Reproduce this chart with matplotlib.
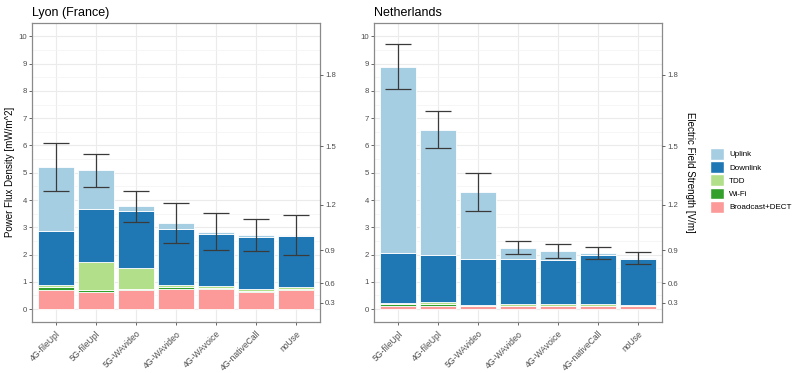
import numpy as np
import matplotlib
matplotlib.use("Agg")
import matplotlib.pyplot as plt
from matplotlib.patches import Patch

plt.rcParams['font.family'] = ['Liberation Sans', 'DejaVu Sans']

# ---- data (mW/m^2), stacked bottom -> top ----
lyon_cats = ['4G-fileUpl', '5G-fileUpl', '5G-WAvideo', '4G-WAvideo', '4G-WAvoice', '4G-nativeCall', 'noUse']
lyon_broadcast = [0.70, 0.64, 0.70, 0.75, 0.73, 0.64, 0.71]
lyon_wifi      = [0.12, 0.06, 0.05, 0.06, 0.05, 0.03, 0.04]
lyon_tdd       = [0.06, 1.04, 0.74, 0.07, 0.06, 0.06, 0.05]
lyon_downlink  = [1.98, 1.92, 2.12, 2.06, 1.92, 1.91, 1.88]
lyon_uplink    = [2.36, 1.43, 0.17, 0.22, 0.08, 0.06, 0.02]
lyon_err_lo    = [4.33, 4.49, 3.18, 2.42, 2.15, 2.12, 1.98]
lyon_err_hi    = [6.10, 5.69, 4.34, 3.88, 3.54, 3.32, 3.44]

nl_cats = ['5G-fileUpl', '4G-fileUpl', '5G-WAvideo', '4G-WAvideo', '4G-WAvoice', '4G-nativeCall', 'noUse']
nl_broadcast = [0.12, 0.12, 0.11, 0.11, 0.11, 0.11, 0.11]
nl_wifi      = [0.06, 0.06, 0.02, 0.02, 0.02, 0.02, 0.01]
nl_tdd       = [0.05, 0.07, 0.03, 0.05, 0.04, 0.05, 0.03]
nl_downlink  = [1.81, 1.73, 1.66, 1.64, 1.63, 1.80, 1.70]
nl_uplink    = [6.85, 4.60, 2.46, 0.43, 0.32, 0.07, 0.01]
nl_err_lo    = [8.07, 5.90, 3.61, 2.01, 1.86, 1.82, 1.65]
nl_err_hi    = [9.72, 7.27, 4.98, 2.51, 2.37, 2.29, 2.10]

layer_names = ['Broadcast+DECT', 'Wi-Fi', 'TDD', 'Downlink', 'Uplink']
layer_colors = ['#FB9A99', '#33A02C', '#B2DF8A', '#1F78B4', '#A6CEE3']
e_ticks = [0.3, 0.6, 0.9, 1.2, 1.5, 1.8]  # V/m

def s_from_e(e):
    return np.asarray(e) ** 2 * 1000 / 377.0

fig = plt.figure(figsize=(7.98, 3.73), dpi=100)

def panel(rect, title, cats, layers, lo, hi, right_label=False, left_label=False):
    ax = fig.add_axes(rect)
    x = np.arange(1, len(cats) + 1)
    bottom = np.zeros(len(cats))
    for vals, col in zip(layers, layer_colors):
        ax.bar(x, vals, 0.9, bottom=bottom, color=col, edgecolor='white', linewidth=0.6, zorder=2)
        bottom = bottom + np.asarray(vals)
    lo = np.asarray(lo); hi = np.asarray(hi)
    mid = (lo + hi) / 2
    ax.errorbar(x, mid, yerr=[mid - lo, hi - mid], fmt='none', ecolor='#3a3a3a',
                elinewidth=0.9, capsize=9.5, capthick=0.9, zorder=3)
    ax.set_xlim(0.4, 7.6)
    ax.set_ylim(-0.47, 10.5)
    ax.set_yticks(range(0, 11))
    ax.set_yticks(np.arange(0.5, 10.5, 1.0), minor=True)
    ax.set_xticks(x)
    ax.set_xticklabels(cats, rotation=45, ha='right', rotation_mode='anchor')
    ax.grid(True, which='major', color='#EBEBEB', linewidth=0.8, zorder=0)
    ax.grid(True, which='minor', axis='y', color='#F3F3F3', linewidth=0.5, zorder=0)
    ax.set_axisbelow(True)
    ax.tick_params(axis='both', colors='#4D4D4D', length=2.2, width=0.6)
    ax.tick_params(axis='y', labelsize=5.6, pad=1.5)
    ax.tick_params(axis='x', labelsize=6.2, pad=3)
    ax.tick_params(axis='y', which='minor', length=0)
    for sp in ax.spines.values():
        sp.set_color('#8A8A8A')
        sp.set_linewidth(0.9)
    ax.set_title(title, loc='left', fontsize=9, pad=5)
    if left_label:
        ax.set_ylabel('Power Flux Density [mW/m^2]', fontsize=7, labelpad=2.5)

    ax2 = ax.twinx()
    ax2.set_ylim(ax.get_ylim())
    ax2.set_yticks(s_from_e(e_ticks))
    ax2.set_yticklabels([f'{e:.1f}' for e in e_ticks])
    ax2.tick_params(axis='y', labelsize=5.6, colors='#4D4D4D', length=2.2, width=0.6, pad=1.5)
    for sp in ax2.spines.values():
        sp.set_visible(False)
    if right_label:
        ax2.set_ylabel('Electric Field Strength [V/m]', fontsize=7, rotation=-90, labelpad=12)
    return ax

panel([0.0401, 0.137, 0.361, 0.802], 'Lyon (France)', lyon_cats,
      [lyon_broadcast, lyon_wifi, lyon_tdd, lyon_downlink, lyon_uplink],
      lyon_err_lo, lyon_err_hi, left_label=True)
panel([0.469, 0.137, 0.361, 0.802], 'Netherlands', nl_cats,
      [nl_broadcast, nl_wifi, nl_tdd, nl_downlink, nl_uplink],
      nl_err_lo, nl_err_hi, right_label=True)

handles = [Patch(facecolor=c, edgecolor='white', label=n)
           for n, c in zip(layer_names[::-1], layer_colors[::-1])]
fig.legend(handles=handles, loc='center left', bbox_to_anchor=(0.885, 0.517),
           frameon=False, fontsize=5.8, handlelength=1.74, handleheight=1.86,
           handletextpad=0.6, labelspacing=0.19, borderpad=0)

plt.savefig('out.png', dpi=100)
